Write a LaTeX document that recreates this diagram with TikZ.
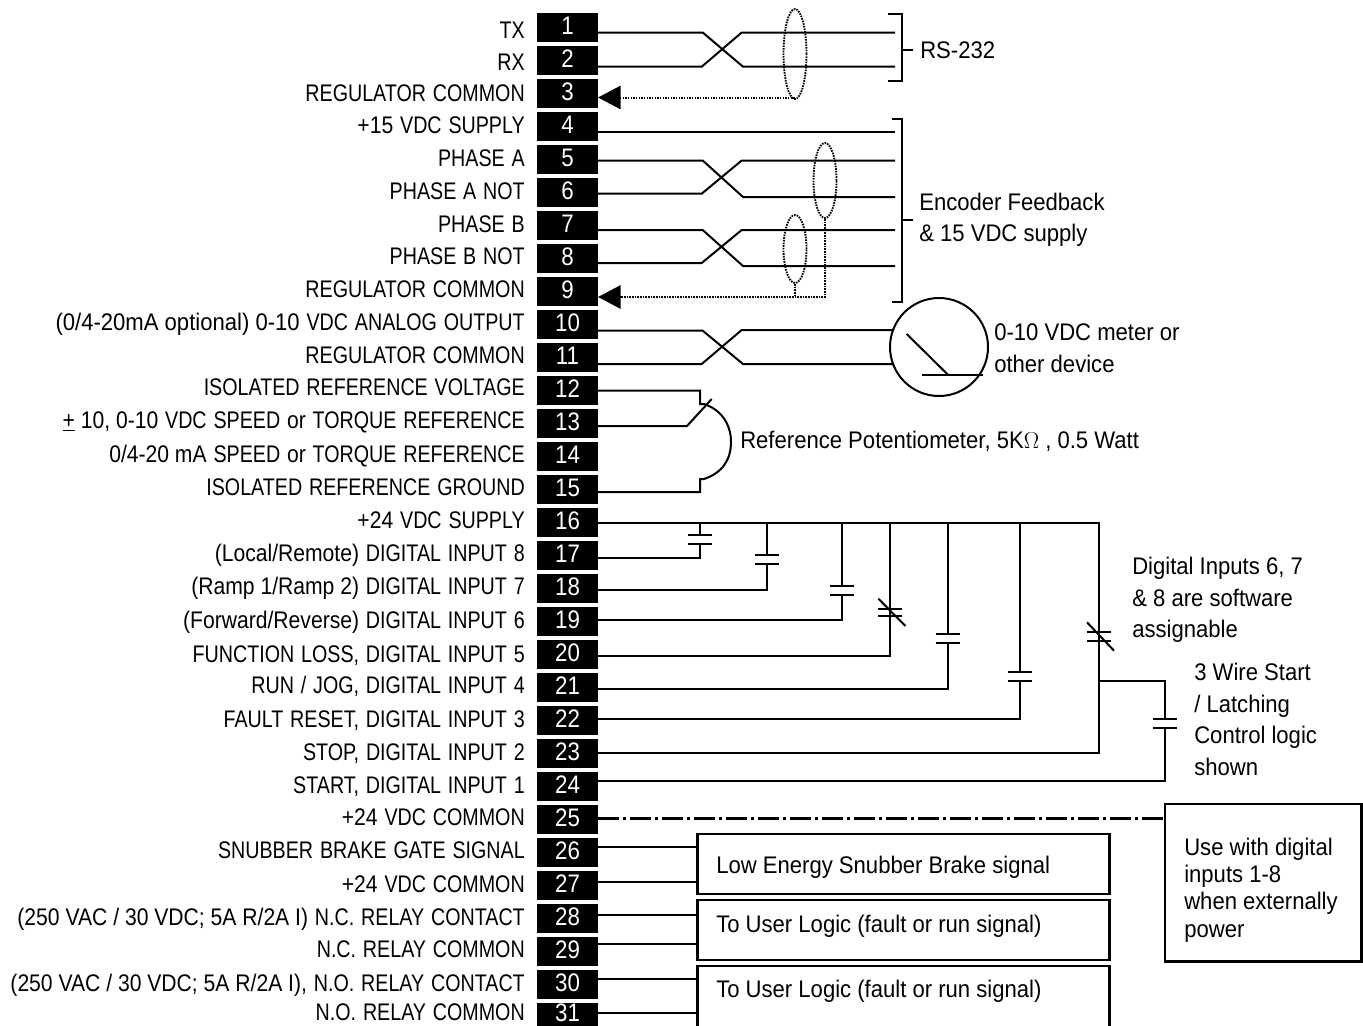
\documentclass[tikz,border=0pt]{standalone}
\usepackage{fontspec}
\setmainfont[FakeStretch=0.82,WordSpace=1.25]{Liberation Sans}
\newfontfamily\lcfont[FakeStretch=0.88]{Liberation Sans}
\newfontfamily\notefont[FakeStretch=0.92]{Liberation Sans}
\usetikzlibrary{arrows.meta,shapes.geometric}
\tikzset{
  wire/.style={line width=1.5pt},
  pinblock/.style={fill=black,text=white,inner sep=0pt,minimum width=45.75pt,font=\lcfont\fontsize{19}{20}\selectfont},
  pinlabel/.style={anchor=base east,inner sep=0pt,yshift=-6pt,font=\fontsize{18}{20}\selectfont},
  notetext/.style={anchor=west,inner sep=0pt,align=left,font=\notefont\fontsize{18}{23.6}\selectfont},
  shieldloop/.style={draw,ellipse,inner sep=0pt,line width=1.4pt,dash pattern=on 1.2pt off 0.8pt,minimum width=17.25pt},
  drainline/.style={line width=1.5pt,dash pattern=on 1.2pt off 0.8pt},
  pintip/.style={-{Triangle[length=17pt,width=17.5pt]}},
  userbox/.style={draw,line width=1.8pt,anchor=north west,inner sep=0pt,minimum width=309pt}
}
\begin{document}
\begin{tikzpicture}[x=0.75pt,y=-0.75pt]
      \useasboundingbox (0,0) rectangle (1363,1025);
      \clip (0,0) rectangle (1363,1025);
      \foreach \n/\ly/\wy/\lab in {
        1/30/32.5/TX,
        2/62/66.7/RX,
        3/93/97.5/REGULATOR COMMON,
        4/125/132/{{\lcfont +15} VDC SUPPLY},
        5/158/160.5/PHASE A,
        6/191/193.7/PHASE A NOT,
        7/224/230/PHASE B,
        8/256/263/PHASE B NOT,
        9/289/297/REGULATOR COMMON,
        10/322/330.7/{{\notefont (0/4-20mA optional) 0-10} VDC ANALOG OUTPUT},
        11/355/364/REGULATOR COMMON,
        12/387/390.7/ISOLATED REFERENCE VOLTAGE,
        13/420/426/{{\lcfont\underline{+} 10, 0-10} VDC SPEED {\lcfont or} TORQUE REFERENCE},
        14/454/459/{{\lcfont 0/4-20 mA} SPEED {\lcfont or} TORQUE REFERENCE},
        15/487/492/ISOLATED REFERENCE GROUND,
        16/520/523.3/{{\lcfont +24} VDC SUPPLY},
        17/553/558.3/{{\lcfont (Local/Remote)} DIGITAL INPUT 8},
        18/586/590.3/{{\lcfont (Ramp 1/Ramp 2)} DIGITAL INPUT 7},
        19/620/620/{{\lcfont (Forward/Reverse)} DIGITAL INPUT 6},
        20/654/656.3/{FUNCTION LOSS, DIGITAL INPUT 5},
        21/685/689/{RUN / JOG, DIGITAL INPUT 4},
        22/719/719.3/{FAULT RESET, DIGITAL INPUT 3},
        23/752/753.3/{STOP, DIGITAL INPUT 2},
        24/785/781.3/{START, DIGITAL INPUT 1},
        25/817/818.3/{{\lcfont +24} VDC COMMON},
        26/850/847.3/SNUBBER BRAKE GATE SIGNAL,
        27/884/881.7/{{\lcfont +24} VDC COMMON},
        28/917/915/{{\lcfont (250 VAC / 30 VDC; 5A R/2A I)} N.C. RELAY CONTACT},
        29/949/944/N.C. RELAY COMMON,
        30/983/979/{{\lcfont (250 VAC / 30 VDC; 5A R/2A I),} N.O. RELAY CONTACT},
        31/1012/1013.3/N.O. RELAY COMMON} {
        \pgfmathsetmacro{\py}{\n==31 ? 1014.5 : 27.5+33*(\n-1)}
        \pgfmathsetmacro{\ph}{\n==31 ? 17.25 : 21.75}
        \node[pinblock,minimum height=\ph pt] (t\n) at (567.5,\py) {\raisebox{3pt}{\n}};
        \node[pinlabel] (l\n) at (525,\ly) {\lab};
        \coordinate (w\n) at (598,\wy);
      }
      \foreach \a/\b/\xa/\xb/\xe in {1/2/32.5/66.7/895,5/6/160.5/197/895,7/8/230/266/895,10/11/330/364/893} {
        \coordinate (e\a) at (\xe,\xb);
        \coordinate (e\b) at (\xe,\xa);
        \draw[wire] (w\a) -- (702.7,0 |- w\a) -- (743,\xb) -- (e\a);
        \draw[wire] (w\b) -- (701.7,0 |- w\b) -- (741.7,\xa) -- (e\b);
      }
      \coordinate (e4) at (895,132);
      \draw[wire] (w4) -- (e4);
      \node[shieldloop,minimum height=67.5pt] (shield1) at (795,54) {};
      \node[shieldloop,minimum height=56.25pt] (shield2) at (825,180.5) {};
      \node[shieldloop,minimum height=51pt] (shield3) at (795,249) {};
      \draw[drainline,pintip] (shield1.south) |- (w3);
      \draw[drainline,pintip] (shield2.south) |- (w9);
      \draw[drainline] (shield3.south) -- (shield3.south |- w9);
      \node[notetext,inner xsep=5.25pt] (rs232) at (913,50) {RS-232};
      \draw[wire] (888,14) -| (901.7,81) -- (888,81);
      \draw[wire] (rs232.west -| 901.7,0) -- (rs232.west);
      \node[notetext,inner xsep=4.5pt] (encoder) at (913,220) {Encoder Feedback\\\& 15 VDC supply};
      \draw[wire] (891.7,119) -| (901.7,302) -- (891.7,302);
      \draw[wire] (encoder.west -| 901.7,0) -- (encoder.west);
      \node[draw,circle,line width=1.5pt,inner sep=0pt,minimum size=73.5pt] (meter) at (939,347) {};
      \draw[wire] (906.7,334) -- (947.7,374.5);
      \draw[wire] (921.7,374.5) -- (982.7,374.5);
      \node[notetext] (meterlabel) at (994,348) {0-10 VDC meter or\\other device};
      \draw[wire] (w12) -| (700,404) -- (704,404) .. controls (722,410) and (731,425) .. (731,442)
        .. controls (731,460) and (722,473) .. (704,479) -- (700,479) |- (w15);
      \draw[wire] (w13) -- (687,426) -- (711.7,399);
      \node[notetext] (potlabel) at (740,441) {Reference Potentiometer, 5K$\Omega$ , 0.5 Watt};
      \draw[wire] (w16) -- (1099,523.3) -- (w23 -| 1099,0) -- (w23);
      \foreach \n/\x/\pa/\pb in {17/700/535/543.7,18/767/555.3/564.3,19/842/586/594.7,21/947.8/634.3/642.7,22/1020/672.3/681} {
        \coordinate (c\n) at (\x,0);
        \draw[wire] (w16 -| c\n) -- (\x,\pa);
        \draw[wire,shift={(\x,0)}] (-12,\pa) -- (12,\pa) (-12,\pb) -- (12,\pb);
        \draw[wire] (\x,\pb) |- (w\n);
      }
      \foreach \n/\x/\pa/\pb in {20/890.4/608.7/616,23/1099/632.3/640.7} {
        \coordinate (c\n) at (\x,0);
        \draw[wire,shift={(\x,0)}] (-12,\pa) -- (12,\pa) (-12,\pb) -- (12,\pb);
        \draw[wire,shift={(\x,0)}] (-12,{\pa-10}) -- (15,{\pb+10});
      }
      \draw[wire] (w16 -| c20) |- (w20);
      \coordinate (branch) at (1099,680.7);
      \draw[wire] (branch) -| (1165,719.3);
      \draw[wire,shift={(1165,0)}] (-12,719.3) -- (12,719.3) (-12,727.7) -- (12,727.7);
      \draw[wire] (1165,727.7) |- (w24);
      \node[notetext] (softnote) at (1132,600) {Digital Inputs 6, 7\\\& 8 are software\\assignable};
      \node[notetext] (wirenote) at (1194,719.5) {3 Wire Start\\/ Latching\\Control logic\\shown};
      \node[userbox,minimum height=45pt] (brake) at (696.3,833) {};
      \node[userbox,minimum height=45pt] (userA) at (696.3,899) {};
      \node[userbox,minimum height=52pt] (userB) at (696.3,965) {};
      \node[notetext] at (716,867) {Low Energy Snubber Brake signal};
      \node[notetext] at (716,926) {To User Logic (fault or run signal)};
      \node[notetext] at (716,991) {To User Logic (fault or run signal)};
      \foreach \n/\b in {26/brake,27/brake,28/userA,29/userA,30/userB,31/userB} {
        \draw[wire] (w\n) -- (w\n -| \b.west);
      }
      \node[draw,line width=1.8pt,anchor=north west,inner sep=0pt,minimum width=147.5pt,minimum height=118pt] (external) at (1163.5,803) {};
      \node[notetext,font=\notefont\fontsize{18}{20.4}\selectfont] at (1184,890) {Use with digital\\inputs 1-8\\when externally\\power};
      \draw[line width=1.9pt,dash pattern=on 16pt off 3pt on 2pt off 3pt] (w25) -- (w25 -| external.west);
    \end{tikzpicture}
\end{document}
